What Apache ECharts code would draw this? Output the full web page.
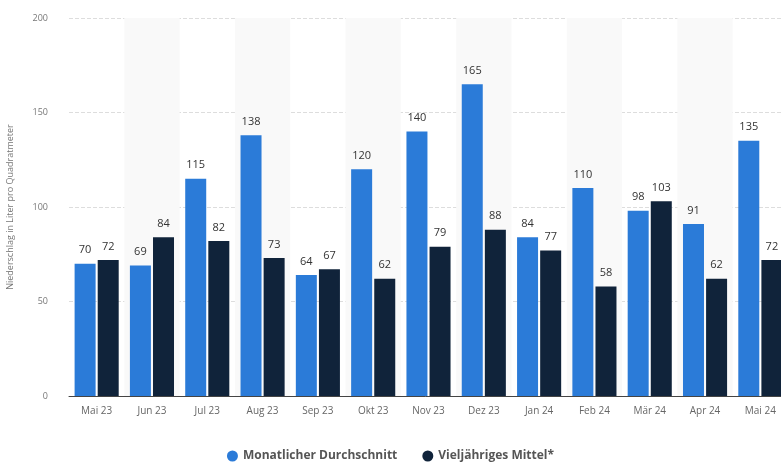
<!DOCTYPE html>
<html><head><meta charset="utf-8">
<script src="https://cdn.jsdelivr.net/npm/echarts@6/dist/echarts.min.js"></script>
<style>html,body{margin:0;padding:0;background:#fff}#c{width:781px;height:468px}</style>
</head><body><div id="c"></div>
<script>
const categories = ['Mai 23','Jun 23','Jul 23','Aug 23','Sep 23','Okt 23','Nov 23','Dez 23','Jan 24','Feb 24','Mär 24','Apr 24','Mai 24'];
const monatlich = [70,69,115,138,64,120,140,165,84,110,98,91,135];
const mittel = [72,84,82,73,67,62,79,88,77,58,103,62,72];
const seriesNames = ['Monatlicher Durchschnitt','Vieljähriges Mittel*'];
const yTicks = [0,50,100,150,200];

const chart = echarts.init(document.getElementById('c'));
const lbl = {show:true, position:'top', color:'#333', fontSize:11, fontFamily:'Open Sans', distance:8};
chart.setOption({
  animation:false,
  grid:{left:69, right:-7, top:18, bottom:72, outerBoundsMode:'none', containLabel:false},
  legend:{bottom:1, left:'center', icon:'circle', itemWidth:11, itemHeight:11, itemGap:25,
    textStyle:{fontSize:12, fontWeight:'bold', color:'#555', fontFamily:'Open Sans'}, data:seriesNames},
  xAxis:{type:'category', data:categories,
    axisLine:{show:true, lineStyle:{color:'#444', width:1}}, axisTick:{show:false},
    axisLabel:{color:'#666', fontSize:10, fontFamily:'Open Sans', margin:10},
    splitArea:{show:true, areaStyle:{color:['rgba(0,0,0,0)','#f9f9f9']}}},
  yAxis:{type:'value', min:yTicks[0], max:yTicks[yTicks.length-1], interval:50,
    name:'Niederschlag in Liter pro Quadratmeter', nameLocation:'middle', nameGap:54,
    nameTextStyle:{color:'#777', fontSize:9, fontFamily:'Open Sans'},
    axisLabel:{color:'#777', fontSize:9, fontFamily:'Open Sans', margin:21},
    axisLine:{show:false}, axisTick:{show:false},
    splitLine:{lineStyle:{type:'dashed', color:'#ddd'}}},
  series:[
    {name:seriesNames[0], type:'bar', data:monatlich, barWidth:21, barGap:'10%', itemStyle:{color:'#2b7bd8'}, label:lbl},
    {name:seriesNames[1], type:'bar', data:mittel, barWidth:21, itemStyle:{color:'#10233a'}, label:lbl}
  ]
});
</script></body></html>
